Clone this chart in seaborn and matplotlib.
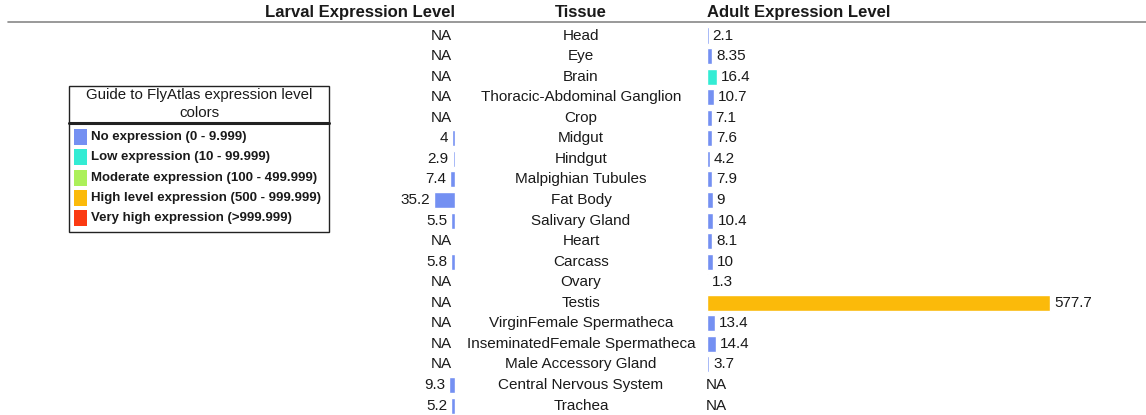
import warnings
warnings.simplefilter("ignore")

import numpy as np
import pandas as pd
import matplotlib
matplotlib.use("Agg")
import matplotlib.pyplot as plt
import matplotlib.transforms as mtransforms
from matplotlib.patches import Rectangle
from matplotlib.lines import Line2D
import seaborn as sns

sns.set_theme(style="white")
plt.rcParams['font.family'] = ['Liberation Sans', 'DejaVu Sans']

# data (None = NA)
tissues = ["Head", "Eye", "Brain", "Thoracic-Abdominal Ganglion", "Crop", "Midgut",
           "Hindgut", "Malpighian Tubules", "Fat Body", "Salivary Gland", "Heart",
           "Carcass", "Ovary", "Testis", "VirginFemale Spermatheca",
           "InseminatedFemale Spermatheca", "Male Accessory Gland",
           "Central Nervous System", "Trachea"]
larval = [None, None, None, None, None, 4, 2.9, 7.4, 35.2, 5.5, None, 5.8,
          None, None, None, None, None, 9.3, 5.2]
adult = [2.1, 8.35, 16.4, 10.7, 7.1, 7.6, 4.2, 7.9, 9, 10.4, 8.1, 10, 1.3,
         577.7, 13.4, 14.4, 3.7, None, None]
larval_level = ["none"] * len(tissues)
adult_level = ["none", "none", "low", "none", "none", "none", "none", "none", "none",
               "none", "none", "none", "none", "high", "none", "none", "none",
               "none", "none"]

level_names = ["none", "low", "moderate", "high", "veryhigh"]
level_labels = ["No expression (0 - 9.999)", "Low expression (10 - 99.999)",
                "Moderate expression (100 - 499.999)",
                "High level expression (500 - 999.999)",
                "Very high expression (>999.999)"]
level_colors = {"none": "#7490f2", "low": "#33ecd4", "moderate": "#acf05a",
                "high": "#fbba0a", "veryhigh": "#fb3a12"}

W, H = 1146, 415
PX_PER_UNIT = 0.593


def fx(px):
    return px / W


def fy(py):
    return 1 - py / H


fig = plt.figure(figsize=(W / 100, H / 100), dpi=100)

row_h = 20.56
top_px = 35.5 - row_h / 2
bot_px = 415
y_bottom = -0.5 + (bot_px - top_px) / row_h

larv_right = 454.5
adult_left = 707.3

ax_l = fig.add_axes([0, fy(bot_px), fx(larv_right), (bot_px - top_px) / H])
ax_a = fig.add_axes([fx(adult_left), fy(bot_px), fx(W - adult_left), (bot_px - top_px) / H])

df_l = pd.DataFrame({"tissue": tissues, "value": larval, "level": larval_level}).dropna()
df_a = pd.DataFrame({"tissue": tissues, "value": adult, "level": adult_level}).dropna()

sns.barplot(data=df_l, y="tissue", x="value", hue="level", order=tissues,
            palette=level_colors, dodge=False, width=0.78, legend=False,
            ax=ax_l, orient="h", saturation=1)
sns.barplot(data=df_a, y="tissue", x="value", hue="level", order=tissues,
            palette=level_colors, dodge=False, width=0.78, legend=False,
            ax=ax_a, orient="h", saturation=1)

ax_l.set_xlim(larv_right / PX_PER_UNIT, 0)
ax_a.set_xlim(0, (W - adult_left) / PX_PER_UNIT)
for ax in (ax_l, ax_a):
    ax.set_ylim(y_bottom, -0.5)
    ax.axis("off")

fs = 11
txt = "#1a1a1a"
pad = 4 / PX_PER_UNIT
for i, v in enumerate(larval):
    if v is None:
        ax_l.text(2.5 / PX_PER_UNIT, i, "NA", ha="right", va="center", fontsize=fs, color=txt)
    else:
        ax_l.text(v + pad, i, f"{v:g}", ha="right", va="center", fontsize=fs, color=txt)
for i, v in enumerate(adult):
    if v is None:
        ax_a.text(-2 / PX_PER_UNIT, i, "NA", ha="left", va="center", fontsize=fs,
                  color=txt, clip_on=False)
    else:
        ax_a.text(v + pad, i, f"{v:g}", ha="left", va="center", fontsize=fs, color=txt)

trans = mtransforms.blended_transform_factory(fig.transFigure, ax_a.transData)
for i, t in enumerate(tissues):
    ax_a.text(fx(581), i, t, transform=trans, ha="center", va="center",
              fontsize=fs, color=txt, clip_on=False)

# header row
hy = fy(12.5)
hfs = 12
fig.text(fx(455), hy, "Larval Expression Level", ha="right", va="center",
         fontsize=hfs, fontweight="bold", color=txt)
fig.text(fx(581), hy, "Tissue", ha="center", va="center",
         fontsize=hfs, fontweight="bold", color=txt)
fig.text(fx(707), hy, "Adult Expression Level", ha="left", va="center",
         fontsize=hfs, fontweight="bold", color=txt)
fig.add_artist(Line2D([fx(8), 1], [fy(22.5), fy(22.5)], color="#888888", lw=1.2))

# colour guide box
bx0, bx1, by0, by1 = 69, 329, 86, 232
fig.add_artist(Rectangle((fx(bx0), fy(by1)), fx(bx1 - bx0), (by1 - by0) / H,
                         fill=False, edgecolor="#222222", lw=1.0))
fig.add_artist(Line2D([fx(bx0), fx(bx1)], [fy(123.5), fy(123.5)], color="#222222", lw=2.2))
fig.text(fx(199), fy(95), "Guide to FlyAtlas expression level", ha="center",
         va="center", fontsize=10.8, color=txt)
fig.text(fx(199), fy(112.5), "colors", ha="center", va="center", fontsize=10.8,
         color=txt)
for k, (name, lab) in enumerate(zip(level_names, level_labels)):
    ey = 137 + k * 20.3
    fig.add_artist(Rectangle((fx(74), fy(ey + 8)), fx(13), 16 / H,
                             facecolor=level_colors[name], edgecolor="none"))
    fig.text(fx(91), fy(ey), lab, ha="left", va="center", fontsize=9.5,
             fontweight="bold", color=txt)

fig.savefig("out.png", dpi=100)
